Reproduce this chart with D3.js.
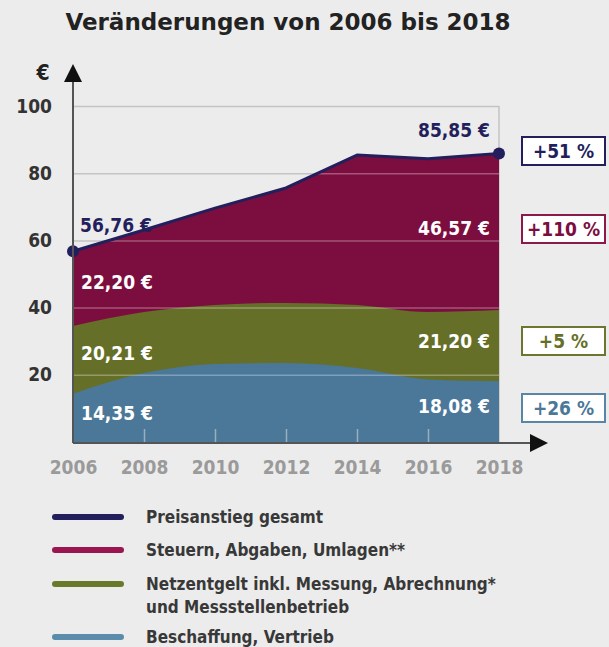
<!DOCTYPE html>
<html>
<head>
<meta charset="utf-8">
<script src="https://cdn.jsdelivr.net/npm/d3@7"></script>
<style>
  body { margin: 0; background: #ececec; }
  svg { display: block; font-family: "DejaVu Sans Condensed", "DejaVu Sans", sans-serif; }
</style>
</head>
<body>
<div id="chart"></div>
<script>
const width = 609;
const height = 647;

// data (€ per month)
const years = [2006, 2008, 2010, 2012, 2014, 2016, 2018];
const beschaffung = [14.35, 20.5, 23.2, 23.5, 22.0, 18.6, 18.08];
const netzentgelt = [20.21, 18.2, 17.6, 17.9, 18.8, 20.1, 21.20];
const steuern = [22.20, 24.4, 28.8, 34.2, 44.6, 45.6, 46.57];
const yTicks = [20, 40, 60, 80, 100];
const changes = ['+51 %', '+110 %', '+5 %', '+26 %'];

const colors = {
  total: '#231f5c',
  steuern: '#7c0e3f',
  netz: '#666f27',
  besch: '#4b7898'
};
const legendColors = ['#231f5c', '#9a1650', '#6a7a2b', '#5a8cab'];
const legendLabels = [
  ['Preisanstieg gesamt'],
  ['Steuern, Abgaben, Umlagen**'],
  ['Netzentgelt inkl. Messung, Abrechnung*', 'und Messstellenbetrieb'],
  ['Beschaffung, Vertrieb']
];

const rows = years.map((y, i) => ({
  year: y, besch: beschaffung[i], netz: netzentgelt[i], steuern: steuern[i]
}));
const totals = rows.map(d => d.besch + d.netz + d.steuern);

const x = d3.scaleLinear().domain([2006, 2018]).range([73, 499]);
const y = d3.scaleLinear().domain([0, 100]).range([442, 106]);

const svg = d3.select('#chart').append('svg')
  .attr('width', width)
  .attr('height', height);

svg.append('rect').attr('width', width).attr('height', height).attr('fill', '#ececec');

// title
svg.append('text')
  .attr('x', 288).attr('y', 30)
  .attr('text-anchor', 'middle')
  .attr('font-family', 'DejaVu Sans')
  .attr('font-weight', 'bold')
  .attr('font-size', 23)
  .attr('fill', '#222')
  .text('Veränderungen von 2006 bis 2018');

const grid = () => d3.axisLeft(y).tickValues(yTicks).tickSize(-(x(2018) - x(2006))).tickFormat('');

// gridlines behind
svg.append('g')
  .attr('transform', `translate(${x(2006)},0)`)
  .call(grid())
  .call(g => g.select('.domain').remove())
  .call(g => g.selectAll('line').attr('stroke', '#c4c4c4').attr('stroke-width', 1.5));

// frame right edge
svg.append('line')
  .attr('x1', x(2018)).attr('x2', x(2018))
  .attr('y1', y(100)).attr('y2', y(0))
  .attr('stroke', '#c4c4c4').attr('stroke-width', 1.5);

// cumulative tops of the stacked layers
const cumNetz = rows.map(d => d.besch + d.netz);

const areaOf = (vals, curve) => d3.area()
  .x((d, i) => x(years[i]))
  .y0(y(0))
  .y1(d => y(d))
  .curve(curve)(vals);

svg.append('path').attr('d', areaOf(totals, d3.curveLinear)).attr('fill', colors.steuern);
svg.append('path').attr('d', areaOf(cumNetz, d3.curveMonotoneX)).attr('fill', colors.netz);
svg.append('path').attr('d', areaOf(beschaffung, d3.curveMonotoneX)).attr('fill', colors.besch);

// light gridlines over the areas
svg.append('clipPath').attr('id', 'areaclip')
  .append('path')
  .attr('d', areaOf(totals, d3.curveLinear));

svg.append('g')
  .attr('clip-path', 'url(#areaclip)')
  .append('g')
  .attr('transform', `translate(${x(2006)},0)`)
  .call(grid())
  .call(g => g.select('.domain').remove())
  .call(g => g.selectAll('line').attr('stroke', 'rgba(255,255,255,0.3)').attr('stroke-width', 1.5));

// total line
const line = d3.line()
  .x((d, i) => x(years[i]))
  .y(d => y(d));

svg.append('path')
  .attr('d', line(totals))
  .attr('fill', 'none')
  .attr('stroke', colors.total)
  .attr('stroke-width', 3)
  .attr('stroke-linejoin', 'round');

svg.selectAll('circle.end').data([0, totals.length - 1])
  .enter().append('circle')
  .attr('class', 'end')
  .attr('cx', i => x(years[i]))
  .attr('cy', i => y(totals[i]))
  .attr('r', 6)
  .attr('fill', colors.total);

// x axis
const xAxis = svg.append('g')
  .attr('transform', `translate(0,${y(0) + 1})`)
  .call(d3.axisBottom(x).tickValues(years).tickFormat(d3.format('d'))
    .tickSize(-14).tickPadding(18))
  .call(g => g.select('.domain').remove());
xAxis.selectAll('.tick line')
  .attr('stroke', 'rgba(220,220,220,0.55)')
  .attr('stroke-width', 1.5)
  .attr('display', d => (d === 2006 || d === 2018) ? 'none' : null);
xAxis.selectAll('.tick text')
  .attr('font-family', '"DejaVu Sans Condensed", sans-serif')
  .attr('font-weight', 'bold')
  .attr('font-size', 19)
  .attr('fill', '#9a9a9a');

svg.append('line')
  .attr('x1', x(2006)).attr('x2', 532)
  .attr('y1', y(0) + 1).attr('y2', y(0) + 1)
  .attr('stroke', '#555').attr('stroke-width', 2);
svg.append('path')
  .attr('d', `M530,${y(0) - 8} L548,${y(0) + 1} L530,${y(0) + 10} Z`)
  .attr('fill', '#111');

// y axis
const yAxis = svg.append('g')
  .attr('transform', `translate(${x(2006)},0)`)
  .call(d3.axisLeft(y).tickValues(yTicks).tickSize(0).tickPadding(21))
  .call(g => g.select('.domain').remove());
yAxis.selectAll('.tick text')
  .attr('font-family', '"DejaVu Sans Condensed", sans-serif')
  .attr('font-weight', 'bold')
  .attr('font-size', 19)
  .attr('fill', '#333');

svg.append('line')
  .attr('x1', x(2006)).attr('x2', x(2006))
  .attr('y1', y(0) + 1).attr('y2', 80)
  .attr('stroke', '#555').attr('stroke-width', 2);
svg.append('path')
  .attr('d', `M${x(2006) - 9},82 L${x(2006)},64 L${x(2006) + 9},82 Z`)
  .attr('fill', '#111');
svg.append('text')
  .attr('x', 43).attr('y', 80)
  .attr('text-anchor', 'middle')
  .attr('font-weight', 'bold')
  .attr('font-size', 21)
  .attr('fill', '#222')
  .text('€');

// value labels
const fmt = v => d3.format('.2f')(v).replace('.', ',') + ' €';
const first = rows[0];
const last = rows[rows.length - 1];
const labels = [
  { v: totals[0], x: x(2006) + 7, y: 232, anchor: 'start', color: colors.total },
  { v: first.steuern, x: x(2006) + 8, y: 289, anchor: 'start', color: '#fff' },
  { v: first.netz, x: x(2006) + 8, y: 360, anchor: 'start', color: '#fff' },
  { v: first.besch, x: x(2006) + 8, y: 420, anchor: 'start', color: '#fff' },
  { v: totals[totals.length - 1], x: x(2018) - 9, y: 137, anchor: 'end', color: colors.total },
  { v: last.steuern, x: x(2018) - 9, y: 235, anchor: 'end', color: '#fff' },
  { v: last.netz, x: x(2018) - 9, y: 348, anchor: 'end', color: '#fff' },
  { v: last.besch, x: x(2018) - 9, y: 413, anchor: 'end', color: '#fff' }
];
svg.selectAll('text.val').data(labels)
  .enter().append('text')
  .attr('class', 'val')
  .attr('x', d => d.x).attr('y', d => d.y)
  .attr('text-anchor', d => d.anchor)
  .attr('font-weight', 'bold')
  .attr('font-size', 19)
  .attr('fill', d => d.color)
  .text(d => fmt(d.v));

// change boxes
const boxes = [
  { t: changes[0], y: 137, c: colors.total, tc: colors.total },
  { t: changes[1], y: 215, c: '#8a1a4c', tc: '#7c0e3f' },
  { t: changes[2], y: 327, c: '#6d7530', tc: '#666f27' },
  { t: changes[3], y: 394, c: '#5a86a6', tc: '#4b7898' }
];
const bg = svg.selectAll('g.box').data(boxes)
  .enter().append('g')
  .attr('class', 'box')
  .attr('transform', d => `translate(522,${d.y})`);
bg.append('rect')
  .attr('width', 83).attr('height', 28)
  .attr('fill', '#fff')
  .attr('stroke', d => d.c)
  .attr('stroke-width', 2);
bg.append('text')
  .attr('x', 41.5).attr('y', 21)
  .attr('text-anchor', 'middle')
  .attr('font-weight', 'bold')
  .attr('font-size', 19)
  .attr('fill', d => d.tc)
  .text(d => d.t);

// legend
const legY = [517, 550, 584, 637];
const lg = svg.selectAll('g.leg').data(legendLabels)
  .enter().append('g')
  .attr('class', 'leg')
  .attr('transform', (d, i) => `translate(0,${legY[i]})`);
lg.append('line')
  .attr('x1', 55).attr('x2', 121)
  .attr('stroke', (d, i) => legendColors[i])
  .attr('stroke-width', 6)
  .attr('stroke-linecap', 'round');
lg.each(function (d) {
  d.forEach((t, j) => {
    d3.select(this).append('text')
      .attr('x', 146).attr('y', 6 + j * 23)
      .attr('font-weight', 'bold')
      .attr('font-size', 17)
      .attr('fill', '#383838')
      .text(t);
  });
});
</script>
</body>
</html>
